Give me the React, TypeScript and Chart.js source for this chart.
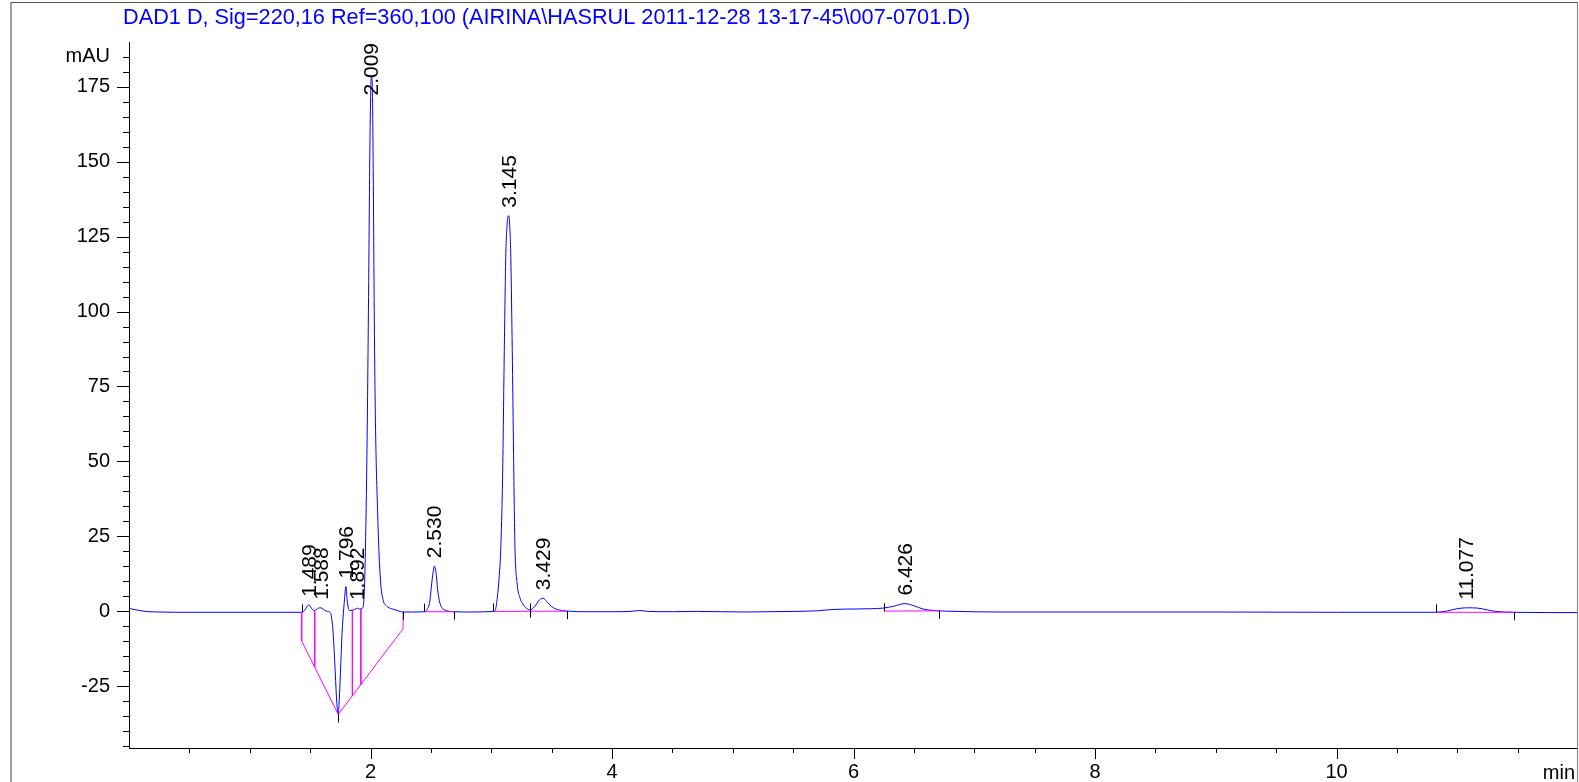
import React, { useEffect, useRef } from 'react';
import { Chart, registerables } from 'chart.js';

Chart.register(...registerables);

const FONT = "'Liberation Sans', Arial, sans-serif";

const titleText = 'DAD1 D, Sig=220,16 Ref=360,100 (AIRINA\\HASRUL 2011-12-28 13-17-45\\007-0701.D)';
const xUnitLabel = 'min';
const yUnitLabel = 'mAU';

// Chromatogram trace (time in min, signal in mAU)
const traceTime = [
  0, 0.05, 0.1, 0.15, 0.25, 0.5, 0.8, 1.1, 1.3, 1.43,
  1.455, 1.475, 1.489, 1.505, 1.52, 1.538, 1.555, 1.57, 1.588, 1.61,
  1.635, 1.66, 1.675, 1.69, 1.706, 1.72, 1.733, 1.743, 1.753, 1.765,
  1.775, 1.785, 1.796, 1.806, 1.818, 1.83, 1.85, 1.87, 1.892, 1.91,
  1.925, 1.94, 1.95, 1.96, 1.968, 1.976, 1.985, 1.995, 2.003, 2.009,
  2.016, 2.024, 2.031, 2.038, 2.046, 2.056, 2.07, 2.085, 2.106, 2.13,
  2.16, 2.19, 2.23, 2.27, 2.35, 2.445, 2.47, 2.49, 2.5, 2.515,
  2.53, 2.545, 2.555, 2.57, 2.59, 2.62, 2.694, 2.85, 3.017, 3.035,
  3.05, 3.065, 3.078, 3.094, 3.108, 3.12, 3.133, 3.145, 3.155, 3.162,
  3.174, 3.185, 3.196, 3.215, 3.237, 3.26, 3.29, 3.32, 3.36, 3.4,
  3.429, 3.46, 3.5, 3.55, 3.629, 3.8, 4.0, 4.15, 4.23, 4.3,
  4.5, 4.7, 4.9, 5.1, 5.3, 5.5, 5.7, 5.83, 6.0, 6.15,
  6.245, 6.33, 6.426, 6.5, 6.576, 6.706, 6.85, 7.21, 8, 9,
  10, 10.82, 10.91, 11.0, 11.077, 11.17, 11.25, 11.32, 11.468, 12,
];
const traceSignal = [
  0.9, 0.5, 0.1, -0.15, -0.3, -0.4, -0.4, -0.4, -0.4, -0.4,
  0.3, 1.6, 2.1, 1.4, 0.5, 0.2, 0.6, 1.0, 1.1, 0.6,
  0.0, -0.3, -1.5, -7, -18.7, -30, -34.5, -28, -18.7, -7,
  -0.9, 4, 8.2, 4, 0.8, 0.2, 0.3, 0.6, 1.0, 0.7,
  0.8, 1.5, 8, 25, 45, 72, 110, 155, 175, 178.5,
  173, 140, 100, 72, 52, 37, 20, 9, 3.5, 1.8,
  1.0, 0.6, 0.1, -0.3, -0.3, -0.2, 0.6, 3, 6.5, 12,
  15, 12, 7.5, 3.5, 1.2, 0.3, -0.2, -0.3, -0.1, 0.5,
  4.5, 11, 20, 45, 87, 118, 130, 132, 127, 118,
  87, 52, 22, 9, 4.5, 2.5, 1.0, 0.4, 1.5, 3.8,
  4.3, 3.2, 1.5, 0.5, 0, -0.2, -0.2, -0.1, 0.2, -0.1,
  -0.2, -0.1, -0.2, -0.3, -0.2, -0.1, 0.1, 0.55, 0.7, 0.8,
  1.0, 1.6, 2.5, 1.8, 0.7, 0.1, -0.1, -0.3, -0.3, -0.3,
  -0.4, -0.4, 0.0, 0.8, 1.1, 1.0, 0.4, -0.1, -0.4, -0.5,
];

// Peak retention times and their labels
const peakTimes = [1.489, 1.588, 1.796, 1.892, 2.009, 2.53, 3.145, 3.429, 6.426, 11.077];
const peakLabels = ['1.489', '1.588', '1.796', '1.892', '2.009', '2.530', '3.145', '3.429', '6.426', '11.077'];

// Integration baselines (null separates segments)
const baselineTimes = [
  1.43, 1.43, 1.733, 2.27, 2.27, null,
  1.538, 1.538, null,
  1.85, 1.85, null,
  1.92, 1.92, null,
  2.445, 2.694, null,
  3.017, 3.629, null,
  6.25, 6.706, null,
  10.82, 11.468,
];
const baselineValues = [
  -0.4, -10, -34.5, -5.9, -0.3, null,
  0.2, -18.7, null,
  0.3, -28.3, null,
  0.8, -24.5, null,
  -0.2, -0.2, null,
  -0.1, 0, null,
  0, 0.1, null,
  -0.4, -0.4,
];

// Integration event marks
const eventTimes = [1.43, 1.733, 2.27, 2.445, 2.694, 3.017, 3.32, 3.629, 6.25, 6.706, 10.82, 11.468];
const eventLevels = [-0.4, -34.5, -0.3, -0.2, -0.2, -0.1, 0.2, 0, 0, 0.1, -0.4, -0.4];
const eventKinds = ['start', 'end', 'end', 'start', 'end', 'start', 'both', 'end', 'start', 'end', 'start', 'end'];

const xMin = 0;
const xMax = 12;
const yMin = -45.7;
const yMax = 190;

function interpSignal(t: number): number {
  for (let i = 1; i < traceTime.length; i++) {
    if (traceTime[i] >= t) {
      const t0 = traceTime[i - 1], t1 = traceTime[i];
      const f = (t - t0) / (t1 - t0);
      return traceSignal[i - 1] + f * (traceSignal[i] - traceSignal[i - 1]);
    }
  }
  return traceSignal[traceSignal.length - 1];
}

function splitSegments(ts: (number | null)[], vs: (number | null)[]) {
  const out: { x: number; y: number }[][] = [];
  let cur: { x: number; y: number }[] = [];
  ts.forEach((t, i) => {
    const v = vs[i];
    if (t === null || v === null) {
      if (cur.length) out.push(cur);
      cur = [];
    } else {
      cur.push({ x: t, y: v });
    }
  });
  if (cur.length) out.push(cur);
  return out;
}

const decorPlugin = {
  id: 'decor',
  afterDraw(chart: any) {
    const { ctx, chartArea: a, scales } = chart;
    const xs = scales.x;
    const ys = scales.y;
    const seg = (x1: number, y1: number, x2: number, y2: number) => {
      ctx.beginPath();
      ctx.moveTo(x1, y1);
      ctx.lineTo(x2, y2);
      ctx.stroke();
    };
    ctx.save();
    ctx.lineWidth = 1;
    ctx.strokeStyle = '#000';
    // axes
    seg(a.left + 0.5, a.top, a.left + 0.5, a.bottom + 1);
    seg(a.left, a.bottom + 0.5, a.right, a.bottom + 0.5);
    // y ticks
    ys.ticks.forEach((t: any) => {
      if (t.value > ys.max - 1) return;
      const y = Math.round(ys.getPixelForValue(t.value)) + 0.5;
      const major = Math.round(t.value) % 25 === 0;
      seg(a.left - (major ? 12 : 6), y, a.left, y);
    });
    // x ticks
    xs.ticks.forEach((t: any) => {
      if (t.value <= xs.min || t.value >= xs.max) return;
      const x = Math.round(xs.getPixelForValue(t.value)) + 0.5;
      const major = Math.abs(t.value % 2) < 1e-6;
      seg(x, a.bottom, x, a.bottom + (major ? 11 : 5));
    });
    // integration event marks
    ctx.save();
    ctx.beginPath();
    ctx.rect(a.left, a.top, a.right - a.left, a.bottom - a.top);
    ctx.clip();
    eventTimes.forEach((t, i) => {
      const x = Math.round(xs.getPixelForValue(t)) + 0.5;
      const y = ys.getPixelForValue(eventLevels[i]);
      const k = eventKinds[i];
      if (k === 'start') seg(x, y - 8, x, y);
      else if (k === 'end') seg(x, y, x, y + 8);
      else seg(x, y - 7, x, y + 7);
    });
    ctx.restore();
    // peak labels
    ctx.fillStyle = '#000';
    ctx.font = `21px ${FONT}`;
    ctx.textAlign = 'left';
    ctx.textBaseline = 'middle';
    peakTimes.forEach((t, i) => {
      const label = peakLabels[i];
      const x = xs.getPixelForValue(t);
      const apex = ys.getPixelForValue(interpSignal(t));
      const w = ctx.measureText(label).width;
      let start = apex - 8;
      if (start - w < a.top + 1) start = a.top + 1 + w;
      ctx.save();
      ctx.translate(x + 1, start);
      ctx.rotate(-Math.PI / 2);
      ctx.fillText(label, 0, 0);
      ctx.restore();
    });
    // unit label on x axis
    ctx.font = `20px ${FONT}`;
    ctx.textAlign = 'right';
    ctx.textBaseline = 'middle';
    ctx.fillText(xUnitLabel, a.right - 3, a.bottom + 25);
    // title
    ctx.fillStyle = '#0000ff';
    ctx.font = `21.7px ${FONT}`;
    ctx.textAlign = 'left';
    ctx.fillText(titleText, 123, 18);
    // frame
    ctx.strokeStyle = '#808080';
    ctx.lineWidth = 1.5;
    seg(11, 2, 11, chart.height);
    ctx.strokeStyle = '#555';
    ctx.lineWidth = 1;
    seg(11, 2.5, a.right, 2.5);
    ctx.strokeStyle = '#808080';
    seg(a.right - 0.5, 2, a.right - 0.5, chart.height);
    ctx.restore();
  },
};

export default function App() {
  const ref = useRef<HTMLCanvasElement>(null);
  useEffect(() => {
    document.body.style.margin = '0';
    const canvas = ref.current;
    if (!canvas) return;
    const trace = traceTime.map((t, i) => ({ x: t, y: traceSignal[i] }));
    const segs = splitSegments(baselineTimes, baselineValues);
    const chart = new Chart(canvas, {
      type: 'scatter',
      data: {
        datasets: [
          ...segs.map((s) => ({
            data: s,
            showLine: true,
            borderColor: '#ff00ff',
            borderWidth: 1,
            pointRadius: 0,
            pointHoverRadius: 0,
            tension: 0,
          })),
          {
            data: trace,
            showLine: true,
            borderColor: '#0000ff',
            borderWidth: 1,
            pointRadius: 0,
            pointHoverRadius: 0,
            tension: 0.4,
            cubicInterpolationMode: 'monotone',
          },
        ],
      } as any,
      options: {
        responsive: false,
        animation: false,
        devicePixelRatio: 1,
        events: [],
        layout: { autoPadding: false, padding: { top: 42, right: 1, left: 0, bottom: 0 } },
        plugins: {
          legend: { display: false },
          tooltip: { enabled: false },
          title: { display: false },
        },
        scales: {
          x: {
            type: 'linear',
            min: xMin,
            max: xMax,
            afterFit: (s: any) => {
              s.height = 34;
              s.paddingLeft = 0;
              s.paddingRight = 0;
            },
            grid: { display: false, drawTicks: false },
            border: { display: false },
            ticks: {
              stepSize: 0.5,
              autoSkip: false,
              maxRotation: 0,
              includeBounds: false,
              padding: 12,
              color: '#000',
              font: { family: FONT, size: 20 },
              callback: (v: any) => {
                const n = Number(v);
                return Math.abs(n % 2) < 1e-6 && n > xMin && n < xMax ? String(n) : '';
              },
            },
          },
          y: {
            type: 'linear',
            min: yMin,
            max: yMax,
            afterFit: (s: any) => {
              s.width = 129;
              s.paddingTop = 0;
              s.paddingBottom = 0;
            },
            grid: { display: false, drawTicks: false },
            border: { display: false },
            ticks: {
              stepSize: 5,
              autoSkip: false,
              includeBounds: false,
              padding: 19,
              color: '#000',
              font: { family: FONT, size: 20 },
              callback: (v: any) => {
                const n = Math.round(Number(v));
                if (n === 185) return yUnitLabel;
                return n % 25 === 0 ? String(n) : '';
              },
            },
          },
        },
      } as any,
      plugins: [decorPlugin],
    });
    return () => chart.destroy();
  }, []);
  return <canvas ref={ref} width={1579} height={782} style={{ display: 'block' }} />;
}
